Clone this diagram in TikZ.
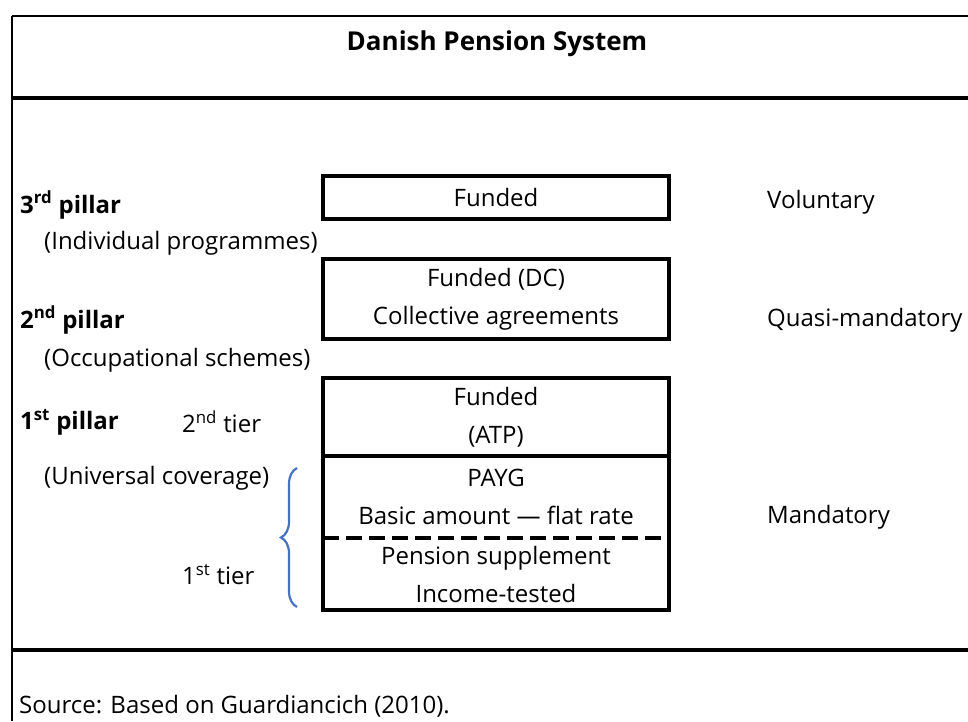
\documentclass[tikz,border=0pt]{standalone}
\usepackage{fontspec}
\setmainfont{Open Sans}
\usetikzlibrary{positioning,decorations.pathreplacing}
\definecolor{braceblue}{RGB}{68,114,196}
\tikzset{frame/.style={black,line width=1.8pt}, rule/.style={black,line width=3.5pt},
  cell/.style={align=center, inner sep=0pt, outer sep=0pt, minimum width=346pt, font=\fontsize{24}{38}\selectfont},
  lbl/.style={anchor=west, inner sep=0pt, font=\fontsize{24}{28}\selectfont}}

\begin{document}
\begin{tikzpicture}[x=1pt,y=-1pt]
   \useasboundingbox (0,0) rectangle (968,721);
   \draw[frame] (12,16) -- (990,16);
   \draw[frame] (12,16) -- (12,721);
   \draw[rule] (12,98) -- (990,98);
   \draw[rule] (12,650) -- (990,650);
   \node[font=\fontsize{26}{30}\selectfont\bfseries] (title) at (497,44) {Danish Pension System};

   \node[cell, minimum height=43pt] (third) at (496,197.5) {Funded};
   \node[cell, minimum height=80pt] (second) at (496,299) {Funded (DC)\\Collective agreements};
   \node[cell, minimum height=78pt] (atp) at (496,417) {Funded\\(ATP)};
   \node[cell, minimum height=82pt, below=0pt of atp] (payg) {PAYG\\Basic amount --- flat rate};
   \node[cell, minimum height=72pt, below=0pt of payg] (supp) {Pension supplement\\Income-tested};
   \draw[rule] (third.north west) rectangle (third.south east);
   \draw[rule] (second.north west) rectangle (second.south east);
   \draw[rule] (atp.north west) rectangle (supp.south east);
   \draw[rule] (atp.south west) -- (atp.south east);
   \draw[rule, line width=3.2pt, dash pattern=on 16pt off 7pt] (payg.south west) -- (payg.south east);

   \node[lbl, font=\fontsize{24}{28}\selectfont\bfseries] (p3) at (20,205) {3\textsuperscript{rd} pillar};
   \node[lbl] (p3sub) at (44,243) {(Individual programmes)};
   \node[lbl, font=\fontsize{24}{28}\selectfont\bfseries] (p2) at (20,320) {2\textsuperscript{nd} pillar};
   \node[lbl] (p2sub) at (44,360) {(Occupational schemes)};
   \node[lbl, font=\fontsize{24}{28}\selectfont\bfseries] (p1) at (20,422) {1\textsuperscript{st} pillar};
   \node[lbl] (tier2) at (182,422) {2\textsuperscript{nd} tier};
   \node[lbl] (p1sub) at (44,478) {(Universal coverage)};
   \node[lbl] (tier1) at (182,575) {1\textsuperscript{st} tier};

   \coordinate (bt) at (297,468);
   \coordinate (bb) at (297,607);
   \draw[braceblue, line width=2.2pt, decorate, decoration={brace, amplitude=16pt, aspect=0.5}] (bb) -- (bt);

   \node[lbl] (vol) at (767,202) {Voluntary};
   \node[lbl] (quasi) at (767,320) {Quasi-mandatory};
   \node[lbl] (mand) at (767,517) {Mandatory};

   \node[lbl] (src) at (19,706) {Source: Based on Guardiancich (2010).};
\end{tikzpicture}
\end{document}
